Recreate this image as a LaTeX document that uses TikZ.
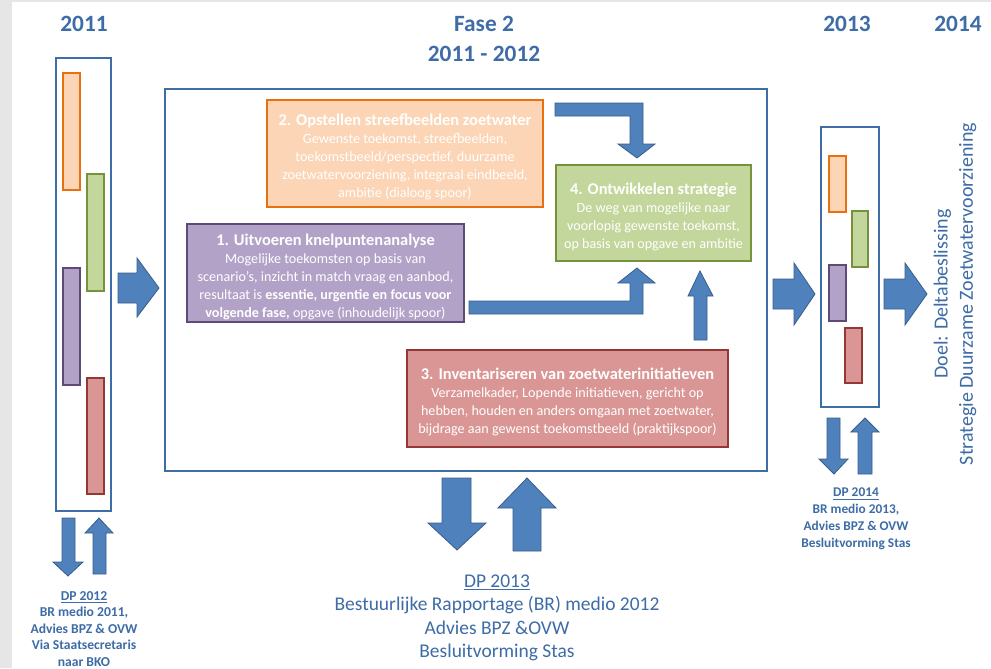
\documentclass[tikz,border=0pt]{standalone}
\usepackage{fontspec}
\setmainfont{Carlito}
\usetikzlibrary{fit}
\definecolor{tblue}{HTML}{3D6CA6}
\definecolor{fblue}{HTML}{3F6DA6}
\definecolor{afill}{HTML}{4F81BD}
\definecolor{aborder}{HTML}{385D8A}
\definecolor{orangef}{HTML}{FBD5B5}
\definecolor{orangeb}{HTML}{E8700F}
\definecolor{greenf}{HTML}{C3D69B}
\definecolor{greenb}{HTML}{76923C}
\definecolor{purplef}{HTML}{B3A2C7}
\definecolor{purpleb}{HTML}{5F497A}
\definecolor{redf}{HTML}{D99694}
\definecolor{redb}{HTML}{953735}
\definecolor{pagegray}{HTML}{E6E6E6}
\begin{document}
\begin{tikzpicture}[x=0.75pt,y=-0.75pt,
  yearlbl/.style={text=tblue,font=\fontsize{17.5}{22.5}\selectfont\bfseries,align=center,inner sep=0pt},
  frame/.style={draw=fblue,line width=1.9pt,inner sep=0pt},
  bar/.style={line width=1.6pt,inner sep=0pt},
  stepbox/.style={line width=2.2pt,inner sep=0pt},
  steptext/.style={text=white,align=center,inner sep=0pt,font=\fontsize{10.6}{13.5}\selectfont},
  blk/.style={fill=afill,draw=aborder,line width=0.6pt,line join=miter},
  note/.style={text=tblue,align=center,inner sep=0pt}
]
\useasboundingbox (0,0) rectangle (991,668);
\fill[pagegray] (0,0) rectangle (991,668);
\fill[white] (12,2) rectangle (991,668);

% year labels
\node[yearlbl] (y2011) at (84,24) {2011};
\node[yearlbl] (fase) at (484,39) {Fase 2\\2011 - 2012};
\node[yearlbl] (y2013) at (847,24) {2013};
\node[yearlbl] (y2014) at (958,24) {2014};

% left tall box with bars
\node[frame,fit={(56,58)(111,511)}] (lbox) {};
\node[bar,draw=orangeb,fill=orangef,fit={(63,73)(80,190)}] (lb2) {};
\node[bar,draw=greenb,fill=greenf,fit={(87,174)(104,291)}] (lb4) {};
\node[bar,draw=purpleb,fill=purplef,fit={(63,268)(80,385)}] (lb1) {};
\node[bar,draw=redb,fill=redf,fit={(87,378)(104,494)}] (lb3) {};

% main box
\node[frame,fit={(165,89)(767,471)}] (main) {};

% right small box with bars
\node[frame,fit={(821,127)(879,407)}] (rbox) {};
\node[bar,draw=orangeb,fill=orangef,fit={(829,156)(846,212)}] (rb2) {};
\node[bar,draw=greenb,fill=greenf,fit={(852,211)(868,267)}] (rb4) {};
\node[bar,draw=purpleb,fill=purplef,fit={(829,265)(846,321)}] (rb1) {};
\node[bar,draw=redb,fill=redf,fit={(845,328)(862,383)}] (rb3) {};

% step boxes
\node[stepbox,draw=orangeb,fill=orangef,fit={(267,100)(543,207)}] (s2) {};
\node[steptext] (s2t) at ([yshift=-2.8pt]s2.center)
 {{\fontsize{12.3}{13.5}\selectfont\bfseries 2. Opstellen streefbeelden zoetwater}\\
  Gewenste toekomst, streefbeelden,\\
  toekomstbeeld/perspectief, duurzame\\
  zoetwatervoorziening, integraal eindbeeld,\\
  ambitie (dialoog spoor)};
\node[stepbox,draw=greenb,fill=greenf,fit={(556,165)(751,261)}] (s4) {};
\node[steptext] (s4t) at ([yshift=-2.8pt]s4.center)
 {{\fontsize{12.3}{13.5}\selectfont\bfseries 4. Ontwikkelen strategie}\\
  De weg van mogelijke naar\\
  voorlopig gewenste toekomst,\\
  op basis van opgave en ambitie};
\node[stepbox,draw=purpleb,fill=purplef,fit={(187,224)(464,322)}] (s1) {};
\node[steptext] (s1t) at ([yshift=-2.8pt]s1.center)
 {{\fontsize{12.3}{13.5}\selectfont\bfseries 1. Uitvoeren knelpuntenanalyse}\\
  Mogelijke toekomsten op basis van\\
  scenario’s, inzicht in match vraag en aanbod,\\
  resultaat is \textbf{essentie, urgentie en focus voor}\\
  \textbf{volgende fase,} opgave (inhoudelijk spoor)};
\node[stepbox,draw=redb,fill=redf,fit={(407,350)(728,447)}] (s3) {};
\node[steptext] (s3t) at ([yshift=-2.8pt]s3.center)
 {{\fontsize{12.3}{13.5}\selectfont\bfseries 3. Inventariseren van zoetwaterinitiatieven}\\
  Verzamelkader, Lopende initiatieven, gericht op\\
  hebben, houden en anders omgaan met zoetwater,\\
  bijdrage aan gewenst toekomstbeeld (praktijkspoor)};

% block arrows: left box -> main
\draw[blk] (118,273) -- (137,273) -- (137,258) -- (159,288) -- (137,317) -- (137,303) -- (118,303) -- cycle;
% main -> right box
\draw[blk] (773,279) -- (794,279) -- (794,263) -- (815,294) -- (794,325) -- (794,309) -- (773,309) -- cycle;
% right box -> goal
\draw[blk] (884,279) -- (905,279) -- (905,263) -- (927,294) -- (905,325) -- (905,309) -- (884,309) -- cycle;

% elbow: step 2 -> step 4
\draw[blk] (555,103) -- (643,103) -- (643,144) -- (655,144) -- (637,158) -- (618,144) -- (630,144) -- (630,116) -- (555,116) -- cycle;
% elbow: step 1 -> step 4
\draw[blk] (469,301) -- (630,301) -- (630,283) -- (618,283) -- (637,268) -- (655,283) -- (643,283) -- (643,314) -- (469,314) -- cycle;
% step 3 -> step 4
\draw[blk] (694,340) -- (694,296) -- (688,296) -- (700,271) -- (713,296) -- (707,296) -- (707,340) -- cycle;

% main bottom arrows
\draw[blk] (442,478) -- (471,478) -- (471,523) -- (486,523) -- (457,550) -- (428,523) -- (442,523) -- cycle;
\draw[blk] (513,551) -- (513,508) -- (498,508) -- (527,478) -- (556,508) -- (541,508) -- (541,551) -- cycle;

% left box bottom arrows
\draw[blk] (62,518) -- (75,518) -- (75,562) -- (83,562) -- (68,576) -- (53,562) -- (62,562) -- cycle;
\draw[blk] (93,574) -- (93,533) -- (85,533) -- (99,518) -- (113,533) -- (106,533) -- (106,574) -- cycle;

% right box bottom arrows
\draw[blk] (827,418) -- (840,418) -- (840,459) -- (848,459) -- (834,474) -- (819,459) -- (827,459) -- cycle;
\draw[blk] (858,474) -- (858,432) -- (851,432) -- (865,418) -- (879,432) -- (872,432) -- (872,474) -- cycle;

% notes
\node[note,font=\fontsize{10.2}{12.4}\selectfont\bfseries] (n2012) at (84,629)
 {\underline{DP 2012}\\BR medio 2011,\\Advies BPZ \& OVW\\Via Staatsecretaris\\naar BKO};
\node[note,font=\fontsize{14.6}{17.5}\selectfont] (n2013) at (497,618)
 {\underline{DP 2013}\\Bestuurlijke Rapportage (BR) medio 2012\\Advies BPZ \&OVW\\Besluitvorming Stas};
\node[note,font=\fontsize{10}{12.7}\selectfont\bfseries] (n2014) at (856,519)
 {\underline{DP 2014}\\BR medio 2013,\\Advies BPZ \& OVW\\Besluitvorming Stas};

% goal text
\node[note,rotate=90,font=\fontsize{15}{19}\selectfont] (goal) at (955,294)
 {Doel: Deltabeslissing\\Strategie Duurzame Zoetwatervoorziening};
\end{tikzpicture}
\end{document}
